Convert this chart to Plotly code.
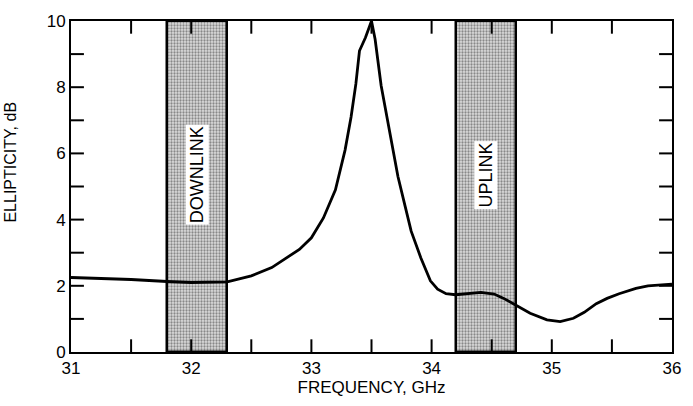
import plotly.graph_objects as go

# Ellipticity versus frequency
freq_ghz = [31.0, 31.25, 31.5, 31.8, 32.0, 32.3, 32.5, 32.67, 32.8, 32.9, 33.0, 33.1,
            33.2, 33.28, 33.33, 33.37, 33.40, 33.45, 33.50, 33.53, 33.58, 33.66,
            33.72, 33.78, 33.83, 33.91, 33.99, 34.05, 34.12, 34.2, 34.3, 34.41,
            34.52, 34.6, 34.68, 34.82, 34.96, 35.07, 35.18, 35.27, 35.37, 35.46,
            35.56, 35.7, 35.8, 36.0]
ellipticity_db = [2.25, 2.22, 2.19, 2.13, 2.10, 2.12, 2.3, 2.55, 2.85, 3.1, 3.45, 4.05,
                  4.9, 6.1, 7.1, 8.1, 9.1, 9.5, 10.0, 9.45, 8.05, 6.5,
                  5.3, 4.4, 3.65, 2.85, 2.15, 1.9, 1.76, 1.73, 1.77, 1.80,
                  1.75, 1.62, 1.46, 1.17, 0.97, 0.92, 1.02, 1.2, 1.46, 1.62,
                  1.76, 1.92, 2.0, 2.05]

# Frequency bands (GHz)
band_names = ["DOWNLINK", "UPLINK"]
band_lo = [31.8, 34.2]
band_hi = [32.3, 34.7]
band_label_y = 5.35

# Axis ticks
x_tick_vals = [31.5, 32.0, 32.5, 33.0, 33.5, 34.0, 34.5, 35.0, 35.5]
y_tick_vals = [1, 2, 3, 4, 5, 6, 7, 8, 9]

X_RANGE = [31, 36]
Y_RANGE = [0, 10]
WIDTH, HEIGHT = 693, 406
MARGIN = dict(l=71, r=17, t=14, b=53)
TICK_PX = 13

FONT = "Liberation Sans, Arial, sans-serif"

# tick length as a fraction of the plotting area
tick_fx = TICK_PX / (WIDTH - MARGIN["l"] - MARGIN["r"])
tick_fy = TICK_PX / (HEIGHT - MARGIN["t"] - MARGIN["b"])

fig = go.Figure()

# stippled bands
fig.add_trace(go.Bar(
    x=[(lo + hi) / 2 for lo, hi in zip(band_lo, band_hi)],
    y=[Y_RANGE[1] for _ in band_lo],
    width=[hi - lo for lo, hi in zip(band_lo, band_hi)],
    base=0,
    marker=dict(
        color="#ffffff",
        line=dict(color="black", width=2.5),
        pattern=dict(shape=".", fgcolor="#333333", bgcolor="#dcdcdc",
                     size=3, solidity=0.45),
    ),
    showlegend=False,
    hoverinfo="skip",
))

fig.add_trace(go.Scatter(
    x=freq_ghz, y=ellipticity_db, mode="lines",
    line=dict(color="black", width=2.8),
    showlegend=False,
))

# inward ticks on all four sides
tick_line = dict(color="black", width=2)
for v in x_tick_vals:
    fig.add_shape(type="line", xref="x", yref="paper", x0=v, x1=v,
                  y0=0, y1=tick_fy, line=tick_line, layer="above")
    fig.add_shape(type="line", xref="x", yref="paper", x0=v, x1=v,
                  y0=1 - tick_fy, y1=1, line=tick_line, layer="above")
for v in y_tick_vals:
    fig.add_shape(type="line", xref="paper", yref="y", x0=0, x1=tick_fx,
                  y0=v, y1=v, line=tick_line, layer="above")
    fig.add_shape(type="line", xref="paper", yref="y", x0=1 - tick_fx, x1=1,
                  y0=v, y1=v, line=tick_line, layer="above")

for name, lo, hi in zip(band_names, band_lo, band_hi):
    fig.add_annotation(
        x=(lo + hi) / 2, y=band_label_y, text=name, textangle=-90,
        showarrow=False, bgcolor="white",
        font=dict(family=FONT, size=18, color="black"),
        borderpad=1,
    )

# y-axis title
fig.add_annotation(
    xref="paper", yref="paper", x=-0.1, y=0.575, xanchor="center", yanchor="middle",
    text="ELLIPTICITY, dB", textangle=-90, showarrow=False,
    font=dict(family=FONT, size=16, color="black"),
)

fig.update_layout(
    width=WIDTH, height=HEIGHT,
    margin=MARGIN,
    plot_bgcolor="white", paper_bgcolor="white",
    font=dict(family=FONT, color="black"),
    bargap=0,
)
fig.update_xaxes(
    range=X_RANGE, tickmode="linear", tick0=31, dtick=1,
    ticks="", showline=True, linecolor="black", linewidth=2, mirror=True,
    showgrid=False, zeroline=False,
    tickfont=dict(size=17, family=FONT),
    title=dict(text="FREQUENCY, GHz", font=dict(size=17, family=FONT), standoff=4),
)
fig.update_yaxes(
    range=Y_RANGE, tickmode="linear", tick0=0, dtick=2,
    ticks="", showline=True, linecolor="black", linewidth=2, mirror=True,
    showgrid=False, zeroline=False,
    tickfont=dict(size=17, family=FONT),
)

fig.write_html("out.html")
